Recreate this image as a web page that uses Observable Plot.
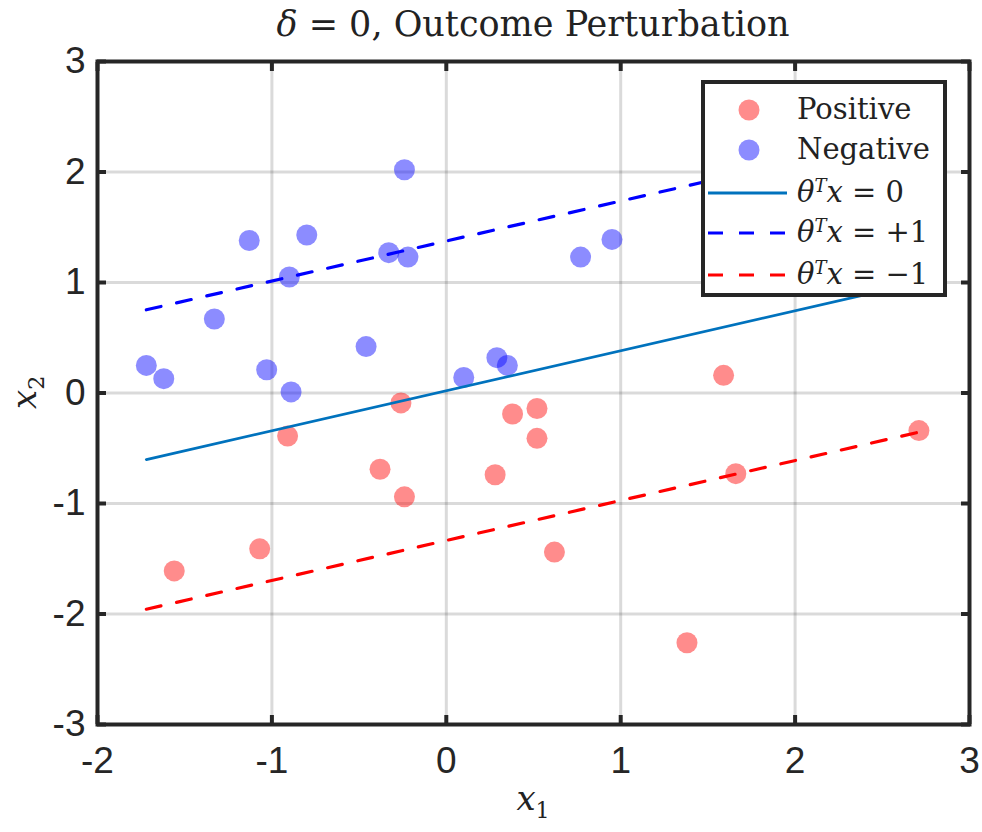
<!DOCTYPE html>
<html><head><meta charset="utf-8">
<script src="https://cdn.jsdelivr.net/npm/d3@7"></script>
<script src="https://cdn.jsdelivr.net/npm/@observablehq/plot@0.6"></script>
<style>
body{margin:0;background:#fff;}
#wrap{position:relative;width:982px;height:832px;overflow:hidden;}
#wrap svg{position:absolute;left:0;top:0;}
.serif{font-family:"DejaVu Serif",serif;color:#222;}
#title{position:absolute;left:97px;width:872px;top:4px;text-align:center;font-size:35px;white-space:nowrap;}
#xlab{position:absolute;left:97px;width:872px;top:778px;text-align:center;font-size:34px;}
#ylab{position:absolute;left:10px;top:370px;font-size:34px;transform:rotate(-90deg);transform-origin:center;}
#legend{position:absolute;left:701px;top:80px;width:238px;height:209px;border:4px solid #262626;background:#fff;}
.row{position:absolute;left:0;height:40px;width:238px;}
.row svg{position:absolute;left:6px;top:0;}
.row .lab{position:absolute;left:92px;top:2px;font-size:29px;line-height:34px;white-space:nowrap;}
i{font-style:italic;}
sup{font-size:62%;font-style:italic;vertical-align:0.55em;line-height:0;}
</style></head><body><div id="wrap"></div>
<script>
// Data
const posX1 = [-1.56, -1.07, -0.91, -0.26, 0.38, 0.52, 0.52, 0.28, -0.38, -0.24, 0.62, 1.59, 1.66, 2.71, 1.38];
const posX2 = [-1.61, -1.41, -0.39, -0.09, -0.19, -0.14, -0.41, -0.74, -0.69, -0.94, -1.44, 0.16, -0.73, -0.34, -2.26];
const negX1 = [-0.24, -1.13, -0.80, -0.33, -0.22, -0.90, -1.33, -0.46, -1.72, -1.62, -1.03, -0.89, 0.10, 0.29, 0.35, 0.77, 0.95];
const negX2 = [2.02, 1.38, 1.43, 1.27, 1.23, 1.05, 0.67, 0.42, 0.25, 0.13, 0.21, 0.01, 0.14, 0.32, 0.25, 1.23, 1.39];
const theta = [-0.015, -0.267, 0.738];   // theta0 + theta1*x1 + theta2*x2 = level
const levels = [0, 1, -1];
const levelColors = ["#0072BD", "#0000FF", "#FF0000"];
const levelDash = [null, "15,16", "15,16"];
const xTicks = [-2, -1, 0, 1, 2, 3];
const yTicks = [-3, -2, -1, 0, 1, 2, 3];

const points = [
  ...posX1.map((x, i) => ({x1: x, x2: posX2[i], cls: "Positive"})),
  ...negX1.map((x, i) => ({x1: x, x2: negX2[i], cls: "Negative"}))
];
const allX = [...posX1, ...negX1];
const xmin = d3.min(allX), xmax = d3.max(allX);
const lineData = levels.map((c, k) => [xmin, xmax].map(x => ({x1: x, x2: (c - theta[0] - theta[1] * x) / theta[2], k})));

const fmt = d => String(d);
const dark = "#262626";
const plot = Plot.plot({
  width: 982, height: 832,
  marginLeft: 97, marginRight: 13, marginTop: 61, marginBottom: 108,
  style: {fontFamily: "'Liberation Sans', Arial, sans-serif", fontSize: "37px", color: dark, background: "#fff"},
  x: {domain: [-2, 3]},
  y: {domain: [-3, 3]},
  marks: [
    Plot.gridX(xTicks, {stroke: dark, strokeOpacity: 0.17, strokeWidth: 3}),
    Plot.gridY(yTicks, {stroke: dark, strokeOpacity: 0.17, strokeWidth: 3}),
    Plot.dot(points, {x: "x1", y: "x2", r: 10.5, fill: d => d.cls === "Positive" ? "#ff0000" : "#0000ff", fillOpacity: 0.45, stroke: "none"}),
    ...lineData.map((ld, k) => Plot.line(ld, {x: "x1", y: "x2", stroke: levelColors[k], strokeWidth: k === 0 ? 2.8 : 3.2, strokeDasharray: levelDash[k]})),
    Plot.frame({stroke: dark, strokeWidth: 4}),
    Plot.axisX(xTicks, {anchor: "bottom", tickSize: -9, strokeWidth: 4, tickFormat: () => "", label: null}),
    Plot.axisX(xTicks, {anchor: "top", tickSize: -9, strokeWidth: 4, tickFormat: () => "", label: null}),
    Plot.axisY(yTicks, {anchor: "left", tickSize: -9, strokeWidth: 4, tickFormat: () => "", label: null}),
    Plot.axisY(yTicks, {anchor: "right", tickSize: -9, strokeWidth: 4, tickFormat: () => "", label: null}),
    Plot.axisX(xTicks, {anchor: "bottom", tickSize: 0, tickPadding: 22, tickFormat: fmt, label: null, fill: dark}),
    Plot.axisY(yTicks, {anchor: "left", tickSize: 0, tickPadding: 12, tickFormat: fmt, label: null, fill: dark})
  ]
});
const wrap = document.getElementById("wrap");
wrap.appendChild(plot);

function add(html, id, cls) {
  const d = document.createElement("div");
  d.id = id; d.className = cls || "serif"; d.innerHTML = html;
  wrap.appendChild(d); return d;
}
add('<i>δ</i> = 0, Outcome Perturbation', "title");
add('<i>x</i><sub style="font-size:65%">1</sub>', "xlab");
add('<i>x</i><sub style="font-size:65%">2</sub>', "ylab");

const legend = add("", "legend");
const rowTops = [6, 46, 89, 129, 171];
const entries = [
  {type: "dot", color: "#ff0000", label: "Positive"},
  {type: "dot", color: "#0000ff", label: "Negative"},
  ...levels.map((c, k) => ({type: "line", color: levelColors[k], dash: levelDash[k],
    label: '<i>θ</i><sup>T</sup><i>x</i> = ' + (c === 0 ? "0" : c > 0 ? "+1" : "−1")}))
];
entries.forEach((e, i) => {
  const r = document.createElement("div");
  r.className = "row"; r.style.top = rowTops[i] + "px";
  const sw = e.type === "dot"
    ? `<svg width="82" height="40"><circle cx="44" cy="20" r="10.5" fill="${e.color}" fill-opacity="0.45"/></svg>`
    : `<svg width="82" height="40"><line x1="3" x2="82" y1="20" y2="20" stroke="${e.color}" stroke-width="${e.dash ? 3.2 : 2.8}" ${e.dash ? `stroke-dasharray="${e.dash}"` : ""}/></svg>`;
  r.innerHTML = sw + `<div class="lab serif">${e.label}</div>`;
  legend.appendChild(r);
});
</script>
</body></html>
